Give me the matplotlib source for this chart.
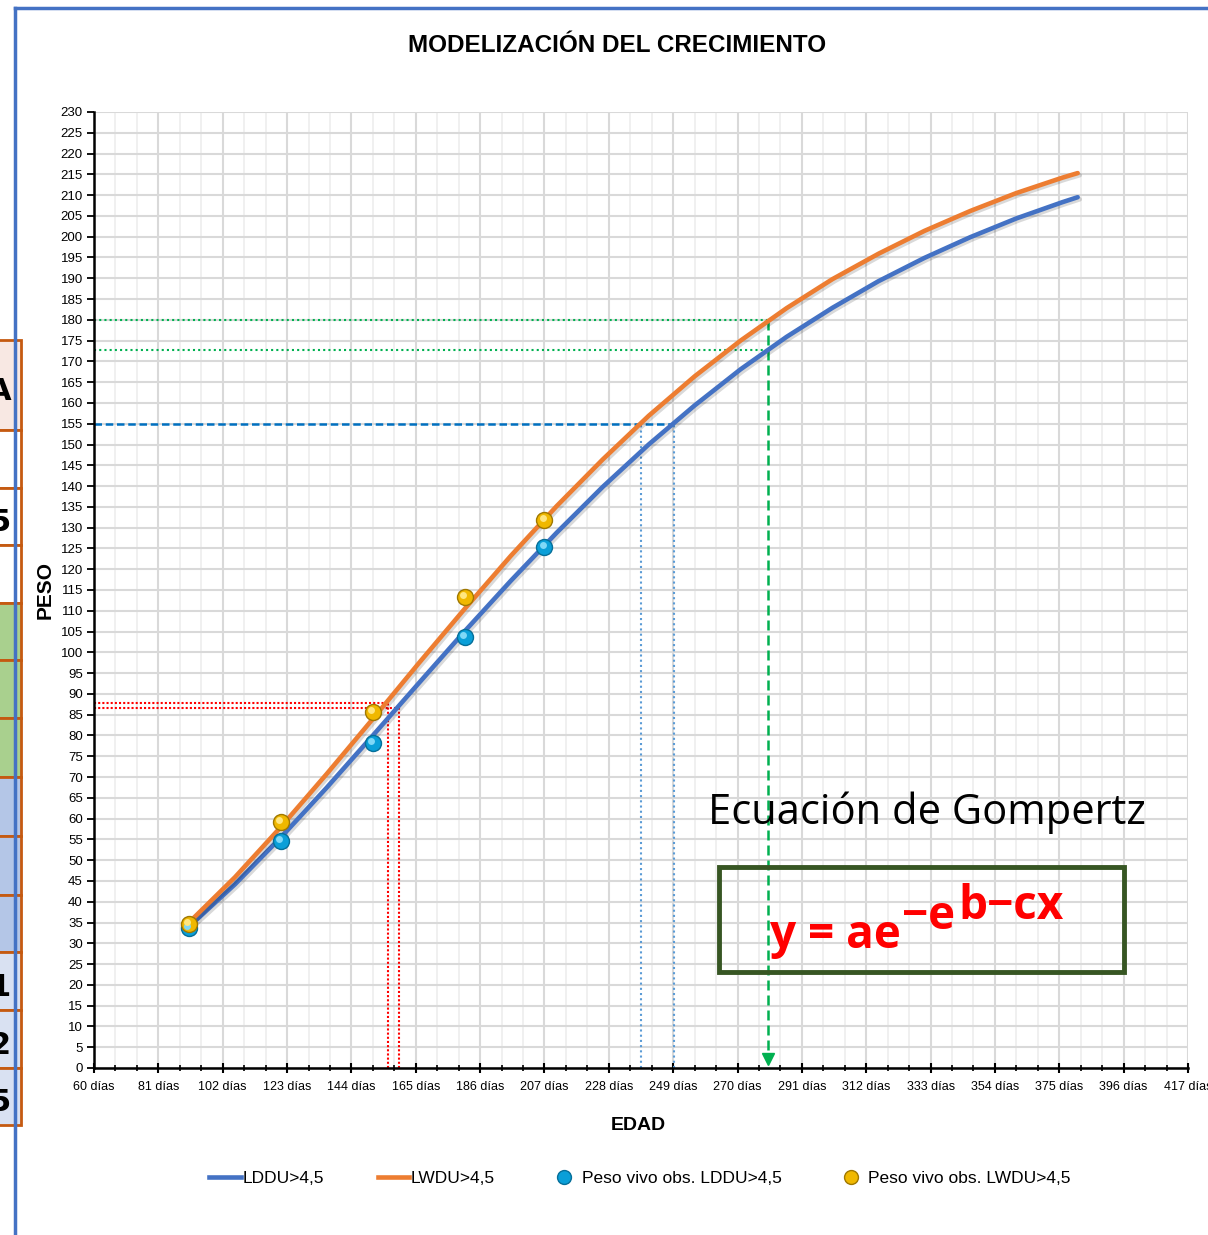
import numpy as np
import matplotlib
matplotlib.use("Agg")
from matplotlib import pyplot as plt
from matplotlib.lines import Line2D
from matplotlib.patches import Rectangle
from matplotlib.transforms import ScaledTranslation
import matplotlib.patheffects as pe

plt.rcParams["font.family"] = ["Liberation Sans Narrow", "Liberation Sans", "DejaVu Sans"]

# Curve values (Gompertz fits)
curve_days = [91, 106, 121, 136, 151, 166, 181, 196, 211, 226, 241,
              256, 271, 286, 301, 316, 331, 346, 361, 376, 381]
lddu_curve = [34.0, 44.2, 55.5, 67.5, 80.0, 92.6, 105.1, 117.2, 128.8, 139.8, 150.0,
              159.4, 168.1, 175.9, 182.9, 189.3, 194.9, 199.9, 204.4, 208.3, 209.5]
lwdu_curve = [35.0, 45.9, 58.0, 70.8, 84.0, 97.4, 110.5, 123.2, 135.2, 146.4, 156.9,
              166.4, 175.0, 182.8, 189.8, 195.9, 201.4, 206.2, 210.5, 214.2, 215.3]

# Observed live weight
obs_days = [91, 121, 151, 181, 207]
lddu_obs = [33.7, 54.6, 78.2, 103.7, 125.3]
lwdu_obs = [34.6, 59.2, 85.6, 113.3, 131.8]

# Reference readings (day reached by each line)
red_w = [87.8, 86.6]
red_d = [156, 159.5]
blue_w = 155
blue_d = [238.5, 249.3]
green_w = [180, 172.7]
green_d = 280

xticks = list(range(60, 418, 21))
xlabels = [f"{d} días" for d in xticks]
yticks = list(range(0, 231, 5))

W, H = 1208, 1235
fig = plt.figure(figsize=(W / 100, H / 100), dpi=100)


def fx(p):
    return p / W


def fy(p):
    return 1 - p / H


# outer blue frame
fig.add_artist(Line2D([fx(15), fx(15)], [fy(8), 0], color="#4472c4", lw=2.5))
fig.add_artist(Line2D([fx(15), 1], [fy(8), fy(8)], color="#4472c4", lw=2.5))

# clipped spreadsheet table at the left edge
rows = [340, 430, 488, 545, 603, 660, 718, 777, 836, 895, 952, 1010, 1068, 1125]
fills = ["#f8e8e3", "white", "white", "white", "#a9d08e", "#a9d08e", "#a9d08e",
         "#b4c6e7", "#b4c6e7", "#b4c6e7", "#d9e1f2", "#d9e1f2", "#d9e1f2"]
cell_txt = {0: "A", 2: "5", 10: "1", 11: "2", 12: "5"}
for i in range(len(fills)):
    fig.add_artist(Rectangle((fx(-5), fy(rows[i + 1])), fx(26), (rows[i + 1] - rows[i]) / H,
                             facecolor=fills[i], edgecolor="#c55a11", lw=2))
    if i in cell_txt:
        fig.text(fx(11), fy((rows[i] + rows[i + 1]) / 2 + 6), cell_txt[i], ha="right", va="center",
                 fontsize=22, fontweight="bold", family="DejaVu Sans")

ax = fig.add_axes([fx(94), fy(1068), fx(1188) - fx(94), (1068 - 112) / H])

# grid
for d in range(60, 418, 7):
    major = (d - 60) % 21 == 0
    ax.axvline(d, color="#d9d9d9" if major else "#ededed", lw=1.5 if major else 1.2, zorder=0)
for v in yticks:
    ax.axhline(v, color="#d9d9d9", lw=1.5, zorder=0)

# reference lines
ax.plot([60, red_d[0]], [red_w[0]] * 2, color="#ff0000", ls=(0, (1, 1)), lw=1.5, zorder=2)
ax.plot([60, red_d[1]], [red_w[1]] * 2, color="#ff0000", ls=(0, (1, 1)), lw=1.5, zorder=2)
for d, w in zip(red_d, red_w):
    ax.plot([d, d], [0, w], color="#ff0000", ls=(0, (1, 1)), lw=1.5, zorder=2)

ax.plot([60, blue_d[1]], [blue_w, blue_w], color="#0070c0", ls=(0, (3, 1.5)), lw=1.8, zorder=2)
for d in blue_d:
    ax.plot([d, d], [0, blue_w], color="#5b9bd5", ls=(0, (1, 1.5)), lw=1.5, zorder=2)

for w in green_w:
    ax.plot([60, green_d], [w, w], color="#00b050", ls=(0, (1, 1.5)), lw=1.5, zorder=2)
ax.plot([green_d, green_d], [green_w[0], 2], color="#00b050", ls=(0, (4, 2)), lw=1.8, zorder=2)
ax.plot([green_d], [2.2], marker="v", color="#00b050", ms=8, clip_on=False, zorder=2)

# curves
shadow = [pe.SimpleLineShadow(offset=(1.5, -1.5), alpha=0.15), pe.Normal()]
ax.plot(curve_days, lddu_curve, color="#4472c4", lw=3.3, zorder=3, solid_capstyle="round",
        solid_joinstyle="round", path_effects=shadow)
ax.plot(curve_days, lwdu_curve, color="#ed7d31", lw=3.3, zorder=3, solid_capstyle="round",
        solid_joinstyle="round", path_effects=shadow)

# observed points (balls with a highlight)
hl = ax.transData + ScaledTranslation(-1.5 / 100, 2 / 100, fig.dpi_scale_trans)
ax.plot(obs_days, lddu_obs, ls="none", marker="o", ms=11.5, mfc="#0a9fd8", mec="#066f99", mew=1, zorder=4)
ax.plot(obs_days, lddu_obs, ls="none", marker="o", ms=5, mfc="#7fd8f7", mec="none", zorder=5, transform=hl)
ax.plot(obs_days, lwdu_obs, ls="none", marker="o", ms=11.5, mfc="#f0b800", mec="#a07800", mew=1, zorder=4)
ax.plot(obs_days, lwdu_obs, ls="none", marker="o", ms=5, mfc="#ffe680", mec="none", zorder=5, transform=hl)

ax.set_xlim(60, 417)
ax.set_ylim(0, 230)
ax.set_xticks(xticks)
ax.set_xticklabels(xlabels, fontsize=9)
ax.set_xticks(list(range(60, 418, 7)), minor=True)
ax.set_yticks(yticks)
ax.set_yticklabels([str(v) for v in yticks], fontsize=9.5)
ax.tick_params(axis="x", which="major", length=7, width=1.5, direction="inout", pad=6)
ax.tick_params(axis="x", which="minor", length=5, width=1.2, direction="inout")
ax.tick_params(axis="y", length=5, width=1.3, direction="out", pad=3)
for s in ["top", "right"]:
    ax.spines[s].set_visible(False)
ax.spines["left"].set_linewidth(1.8)
ax.spines["bottom"].set_linewidth(1.8)

# titles
fig.text(fx(617), fy(45), "MODELIZACIÓN DEL CRECIMIENTO", ha="center", va="center",
         fontsize=17.5, fontweight="bold")
fig.text(fx(45), fy(590), "PESO", ha="center", va="center", rotation=90, fontsize=15, fontweight="bold")
fig.text(fx(638), fy(1125), "EDAD", ha="center", va="center", fontsize=14, fontweight="bold")

# Gompertz annotation
fig.text(fx(708), fy(813), "Ecuación de Gompertz", ha="left", va="center", fontsize=30,
         family=["Open Sans", "DejaVu Sans"])
fig.add_artist(Rectangle((fx(719), fy(972)), fx(1124) - fx(719), (972 - 867) / H,
                         facecolor="none", edgecolor="#375623", lw=3.5))
eq_kw = dict(color="#ff0000", fontweight="bold", fontsize=33, family=["Open Sans", "DejaVu Sans"])
t1 = fig.text(fx(770), fy(948), "y = ae", ha="left", va="baseline", **eq_kw)
t2 = ax.annotate("−e", xy=(1, 0), xycoords=t1, xytext=(1, 14), textcoords="offset points",
                 ha="left", va="bottom", annotation_clip=False, **eq_kw)
t3 = ax.annotate("b−cx", xy=(1, 0), xycoords=t2, xytext=(2, 7), textcoords="offset points",
                 ha="left", va="bottom", annotation_clip=False, **eq_kw)

# legend
handles = [
    Line2D([], [], color="#4472c4", lw=3.3),
    Line2D([], [], color="#ed7d31", lw=3.3),
    Line2D([], [], ls="none", marker="o", ms=10, mfc="#0a9fd8", mec="#066f99"),
    Line2D([], [], ls="none", marker="o", ms=10, mfc="#f0b800", mec="#a07800"),
]
labels = ["LDDU>4,5", "LWDU>4,5", "Peso vivo obs. LDDU>4,5", "Peso vivo obs. LWDU>4,5"]
fig.legend(handles, labels, loc="center", bbox_to_anchor=(fx(640), fy(1178)), ncol=4,
           frameon=False, fontsize=12.5, handlelength=1.8, handletextpad=0.1, columnspacing=3.1)

plt.savefig("out.png", dpi=100)
